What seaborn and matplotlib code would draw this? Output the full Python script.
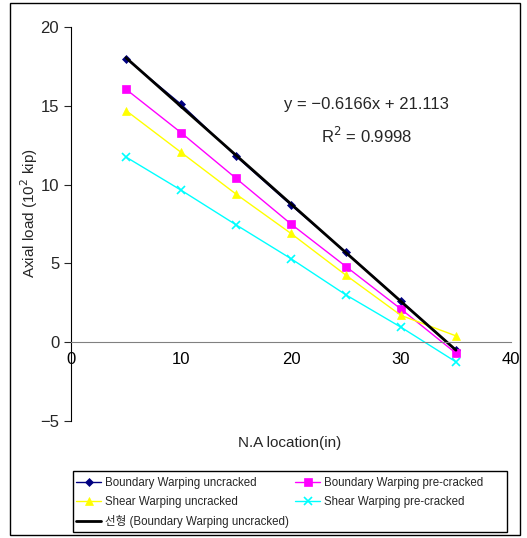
import matplotlib
matplotlib.use('Agg')
import matplotlib.pyplot as plt
import seaborn as sns
import pandas as pd
from matplotlib.patches import Rectangle

# data
na_location = [5, 10, 15, 20, 25, 30, 35]
boundary_uncracked = [18.0, 15.1, 11.8, 8.7, 5.7, 2.6, -0.5]
boundary_precracked = [16.05, 13.3, 10.4, 7.5, 4.8, 2.1, -0.7]
shear_uncracked = [14.7, 12.05, 9.4, 6.9, 4.25, 1.7, 0.4]
shear_precracked = [11.75, 9.65, 7.45, 5.3, 3.0, 0.95, -1.25]

x_ticks = [0, 10, 20, 30, 40]
y_ticks = [-5, 0, 5, 10, 15, 20]

sns.set_style('white')
plt.rcParams['font.family'] = ['Liberation Sans', 'Noto Sans CJK KR']
plt.rcParams['axes.unicode_minus'] = True

fig = plt.figure(figsize=(5.27, 5.38), dpi=100)
ax = fig.add_axes([0.1347, 0.2175, 0.8349, 0.7323])

series = [
    ('Boundary Warping uncracked', boundary_uncracked, '#000080', 'D', 4),
    ('Boundary Warping pre-cracked', boundary_precracked, '#FF00FF', 's', 6),
    ('Shear Warping uncracked', shear_uncracked, '#FFFF00', '^', 6),
    ('Shear Warping pre-cracked', shear_precracked, '#00FFFF', 'x', 6),
]

handles = {}
for name, vals, col, mk, ms in series:
    df = pd.DataFrame({'x': na_location, 'y': vals})
    sns.lineplot(data=df, x='x', y='y', ax=ax, color=col, marker=mk,
                 markersize=ms, markeredgecolor=col, markeredgewidth=1.2 if mk == 'x' else 0.5,
                 linewidth=1, label=name, legend=False)
    handles[name] = ax.lines[-1]

# linear trend of boundary warping uncracked
sns.regplot(x=na_location, y=boundary_uncracked, ax=ax, scatter=False, ci=None,
            color='black', line_kws={'linewidth': 2}, truncate=True)
trend = ax.lines[-1]
trend.set_label('선형 (Boundary Warping uncracked)')

ax.set_xlim(0, 40)
ax.set_ylim(-5, 20)
ax.set_xticks(x_ticks)
ax.set_yticks(y_ticks)
ax.set_xlabel('')
ax.set_ylabel('')

ax.spines['top'].set_visible(False)
ax.spines['right'].set_visible(False)
ax.spines['bottom'].set_position(('data', 0))
ax.spines['bottom'].set_color('#808080')
ax.spines['left'].set_color('black')
ax.tick_params(axis='x', direction='in', length=5, colors='black', labelsize=12,
               pad=7)
ax.tick_params(axis='y', direction='out', length=5, left=True, labelsize=12)
for t in ax.xaxis.get_ticklines():
    t.set_color('#808080')

ax.text(26.9, 15.1, 'y = \u22120.6166x + 21.113', fontsize=12, ha='center', va='center')
ax.text(26.9, 13.1, 'R$^2$ = 0.9998', fontsize=12, ha='center', va='center')

fig.text(290 / 527, 1 - 443 / 538, 'N.A location(in)', fontsize=11, ha='center', va='center')
fig.text(29 / 527, 1 - 213 / 538, 'Axial load (10$^2$ kip)', fontsize=11,
         rotation=90, ha='center', va='center')

order = [handles['Boundary Warping uncracked'], handles['Shear Warping uncracked'], trend,
         handles['Boundary Warping pre-cracked'], handles['Shear Warping pre-cracked']]
leg = fig.legend(handles=order, labels=[h.get_label() for h in order], ncol=2,
                 loc='upper left', bbox_to_anchor=(76 / 527, 1 - 477 / 538),
                 fontsize=8.3, frameon=False, borderaxespad=0, borderpad=0,
                 handlelength=2.2, handletextpad=0.35,
                 labelspacing=0.62, columnspacing=0.5)

# legend frame
fig.patches.append(Rectangle((73 / 527, 1 - 532 / 538), 434 / 527, 61 / 538,
                             transform=fig.transFigure, fill=False,
                             edgecolor='black', linewidth=1))
# outer chart frame
fig.patches.append(Rectangle((10 / 527, 3 / 538), 510 / 527, 532 / 538,
                             transform=fig.transFigure, fill=False,
                             edgecolor='black', linewidth=1))

fig.savefig('out.png', dpi=100)
